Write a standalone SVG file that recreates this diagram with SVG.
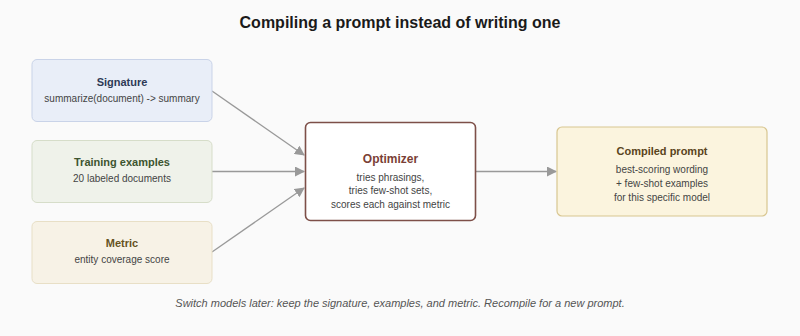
<svg xmlns="http://www.w3.org/2000/svg" width="800" height="336" viewBox="0 0 800 336">
<defs>
<marker id="arr" markerWidth="10" markerHeight="10" refX="9" refY="5" orient="auto" markerUnits="userSpaceOnUse">
<path d="M0,0 L10,5 L0,10 z" fill="#999"/>
</marker>
</defs>
<style>
text{font-family:"Liberation Sans",Arial,sans-serif;text-anchor:middle}
.ttl{font-size:16px;font-weight:bold;fill:#1a1a1a}
.h{font-size:11px;font-weight:bold}
.s{font-size:10px;fill:#444}
.cap{font-size:11px;font-style:italic;fill:#555}
.edge{stroke:#999;stroke-width:1.3;fill:none;marker-end:url(#arr)}
</style>
<rect width="800" height="336" fill="#fafafa"/>
<text class="ttl" x="400" y="28">Compiling a prompt instead of writing one</text>
<g id="connectors">
<line class="edge" x1="212" y1="91" x2="304" y2="155"/>
<line class="edge" x1="212" y1="171.5" x2="304" y2="171.5"/>
<line class="edge" x1="212" y1="252" x2="304" y2="188"/>
<line class="edge" x1="476" y1="171.5" x2="556" y2="171.5"/>
</g>
<g id="signature">
<rect x="32" y="59.5" width="180" height="62" rx="5" fill="#e9eef8" stroke="#c9d3e8" stroke-width="1"/>
<text class="h" x="122" y="86" fill="#2e3a56">Signature</text>
<text class="s" x="122" y="101.5">summarize(document) -&gt; summary</text>
</g>
<g id="training">
<rect x="32" y="140.5" width="180" height="62" rx="5" fill="#eff2ea" stroke="#d6ddc9" stroke-width="1"/>
<text class="h" x="122" y="166" fill="#3d5530">Training examples</text>
<text class="s" x="122" y="181.5">20 labeled documents</text>
</g>
<g id="metric">
<rect x="32" y="221.5" width="180" height="62" rx="5" fill="#f7f2e6" stroke="#e8dfc6" stroke-width="1"/>
<text class="h" x="122" y="247" fill="#66521f">Metric</text>
<text class="s" x="122" y="262.5">entity coverage score</text>
</g>
<g id="optimizer">
<rect x="305.5" y="122.5" width="170" height="98" rx="5" fill="#ffffff" stroke="#7d4f48" stroke-width="1.6"/>
<text x="390.5" y="163" font-size="12" font-weight="bold" fill="#7a4036">Optimizer</text>
<text class="s" x="390.5" y="180.5">tries phrasings,</text>
<text class="s" x="390.5" y="194">tries few-shot sets,</text>
<text class="s" x="390.5" y="208">scores each against metric</text>
</g>
<g id="compiled">
<rect x="557" y="127" width="210" height="89" rx="5" fill="#fbf4de" stroke="#d8c690" stroke-width="1.2"/>
<text class="h" x="662" y="155" fill="#5a4420">Compiled prompt</text>
<text class="s" x="662" y="172.5">best-scoring wording</text>
<text class="s" x="662" y="186.5">+ few-shot examples</text>
<text class="s" x="662" y="200.5">for this specific model</text>
</g>
<text class="cap" x="400" y="307">Switch models later: keep the signature, examples, and metric. Recompile for a new prompt.</text>
</svg>
